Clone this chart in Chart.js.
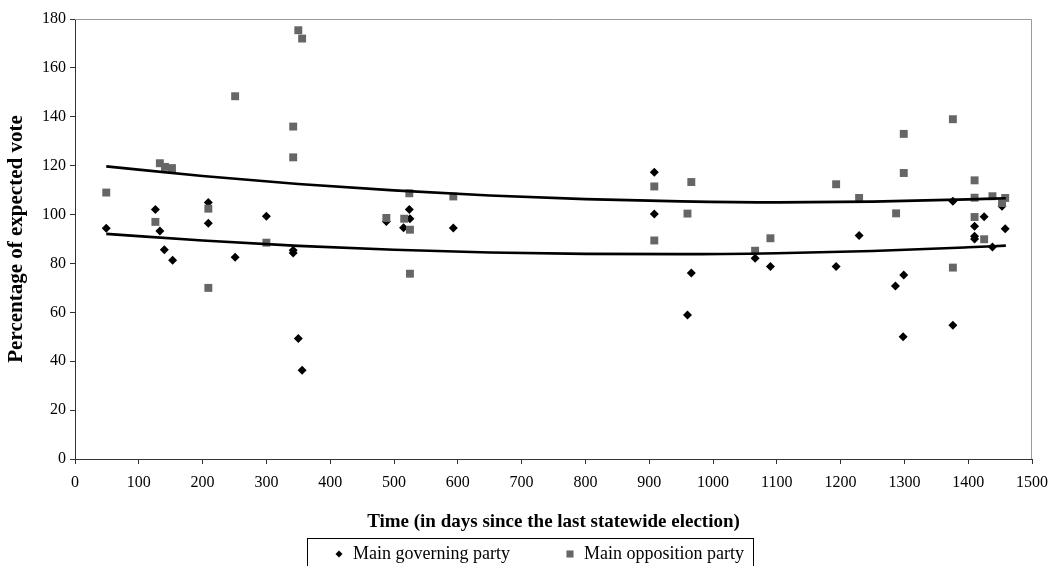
<!DOCTYPE html>
<html>
<head>
<meta charset="utf-8">
<title>Percentage of expected vote</title>
<script src="https://cdn.jsdelivr.net/npm/chart.js@4.4.1/dist/chart.umd.min.js"></script>
<style>
    html, body { margin: 0; padding: 0; background: #fff; overflow: hidden; }
    #wrap { width: 1051px; height: 566px; }
</style>
</head>
<body>
<div id="wrap"><canvas id="voteChart" width="1051" height="566"></canvas></div>
<script>
// Main governing party (days since election, % of expected vote)
const govDays = [49, 126, 133, 140, 153, 209, 209, 251, 300, 342, 342, 350, 356,
    488, 524, 525, 515, 593, 908, 908, 960, 966, 1066, 1090, 1193, 1229,
    1286, 1299, 1298, 1376, 1376, 1410, 1410, 1410, 1425, 1438, 1453, 1458];
const govVotes = [94.4, 102.1, 93.3, 85.6, 81.3, 104.9, 96.4, 82.5, 99.3, 85.4, 84.3, 49.3, 36.3,
    97.2, 102.1, 98.3, 94.6, 94.5, 117.3, 100.2, 58.9, 76.1, 82.1, 78.8, 78.8, 91.4,
    70.8, 75.3, 50.0, 105.4, 54.7, 95.2, 91.1, 90.0, 99.1, 86.7, 103.4, 94.2];

// Main opposition party
const oppDays = [49, 126, 133, 141, 152, 209, 209, 251, 300, 342, 342, 350, 356,
    488, 516, 524, 525, 525, 593, 908, 908, 960, 966, 1066, 1090, 1193, 1229,
    1287, 1299, 1299, 1376, 1376, 1410, 1410, 1410, 1425, 1438, 1453, 1458];
const oppVotes = [109.0, 97.0, 121.0, 119.5, 119.0, 102.4, 70.0, 148.4, 88.5, 136.0, 123.4, 175.4, 172.0,
    98.6, 98.3, 108.7, 93.8, 75.8, 107.4, 111.5, 89.4, 100.4, 113.3, 85.2, 90.3, 112.4, 106.8,
    100.5, 133.0, 117.0, 139.0, 78.3, 114.0, 106.9, 99.0, 89.9, 107.5, 104.7, 106.8];

// Polynomial trend lines
const trendDays = [49, 200, 350, 500, 650, 800, 950, 1100, 1250, 1400, 1459];
const oppTrend = [119.7, 115.8, 112.5, 109.9, 107.8, 106.3, 105.4, 105.0, 105.3, 106.2, 106.7];
const govTrend = [92.1, 89.4, 87.2, 85.6, 84.5, 83.9, 83.8, 84.2, 85.1, 86.6, 87.3];

const xTicks = { min: 0, max: 1500, step: 100 };
const yTicks = { min: 0, max: 180, step: 20 };

const serif = "'Liberation Serif', 'Times New Roman', serif";

function toPoints(xs, ys) {
    return xs.map((x, i) => ({ x: x, y: ys[i] }));
}

// Grey frame on the top and right of the plot area
const framePlugin = {
    id: 'frame',
    afterDraw(chart) {
        const { ctx, chartArea } = chart;
        ctx.save();
        ctx.strokeStyle = '#9a9a9a';
        ctx.lineWidth = 1;
        ctx.beginPath();
        ctx.moveTo(chartArea.left, chartArea.top + 0.5);
        ctx.lineTo(chartArea.right - 0.5, chartArea.top + 0.5);
        ctx.lineTo(chartArea.right - 0.5, chartArea.bottom);
        ctx.stroke();
        ctx.restore();
    }
};

// Boxed legend below the axis title
const boxLegendPlugin = {
    id: 'boxLegend',
    afterDraw(chart) {
        const ctx = chart.ctx;
        const items = [
            { ds: chart.data.datasets[0], x: 339, r: 3.5 },
            { ds: chart.data.datasets[1], x: 570, r: 5 }
        ];
        const cy = 554;
        ctx.save();
        ctx.strokeStyle = '#000';
        ctx.lineWidth = 1;
        ctx.strokeRect(307.5, 538.5, 446, 40);
        ctx.font = '18px ' + serif;
        ctx.textBaseline = 'middle';
        items.forEach(item => {
            ctx.fillStyle = item.ds.backgroundColor;
            ctx.strokeStyle = item.ds.backgroundColor;
            Chart.helpers.drawPoint(ctx, {
                pointStyle: item.ds.pointStyle,
                radius: item.r,
                rotation: 0,
                borderWidth: 0
            }, item.x, cy);
            ctx.fillStyle = '#000';
            ctx.fillText(item.ds.label, item.x + 14, cy);
        });
        ctx.restore();
    }
};

const ctx = document.getElementById('voteChart').getContext('2d');
const voteChart = new Chart(ctx, {
    type: 'scatter',
    data: {
        datasets: [
            {
                label: 'Main governing party',
                data: toPoints(govDays, govVotes),
                pointStyle: 'rectRot',
                pointRadius: 4.5,
                backgroundColor: '#000000',
                borderColor: '#000000',
                borderWidth: 0,
                order: 2
            },
            {
                label: 'Main opposition party',
                data: toPoints(oppDays, oppVotes),
                pointStyle: 'rect',
                pointRadius: 5.6,
                backgroundColor: '#666666',
                borderColor: '#666666',
                borderWidth: 0,
                order: 1
            },
            {
                label: 'Opposition trend',
                data: toPoints(trendDays, oppTrend),
                showLine: true,
                pointRadius: 0,
                borderColor: '#000000',
                borderWidth: 2.6,
                cubicInterpolationMode: 'monotone',
                order: 0
            },
            {
                label: 'Governing trend',
                data: toPoints(trendDays, govTrend),
                showLine: true,
                pointRadius: 0,
                borderColor: '#000000',
                borderWidth: 2.6,
                cubicInterpolationMode: 'monotone',
                order: 0
            }
        ]
    },
    options: {
        responsive: false,
        animation: false,
        layout: {
            padding: { left: 0, right: 19, top: 19, bottom: 0 }
        },
        scales: {
            x: {
                type: 'linear',
                min: xTicks.min,
                max: xTicks.max,
                afterFit: scale => {
                    scale.height = 107;
                    // keep the plot right edge where the reference has it
                    scale.paddingRight = 19;
                },
                grid: {
                    drawOnChartArea: false,
                    drawTicks: true,
                    tickLength: 5,
                    tickColor: '#333'
                },
                border: { color: '#333', width: 1 },
                ticks: {
                    stepSize: xTicks.step,
                    autoSkip: false,
                    maxRotation: 0,
                    padding: 9,
                    color: '#000',
                    font: { family: serif, size: 16 },
                    callback: value => String(value)
                },
                title: {
                    display: true,
                    text: 'Time (in days since the last statewide election)',
                    color: '#000',
                    font: { family: serif, size: 19, weight: 'bold' },
                    padding: { top: 0, bottom: 33 }
                }
            },
            y: {
                min: yTicks.min,
                max: yTicks.max,
                afterFit: scale => { scale.width = 75; },
                grid: {
                    drawOnChartArea: false,
                    drawTicks: true,
                    tickLength: 5,
                    tickColor: '#333'
                },
                border: { color: '#333', width: 1 },
                ticks: {
                    stepSize: yTicks.step,
                    padding: 4,
                    color: '#000',
                    font: { family: serif, size: 16 },
                    callback: value => String(value)
                },
                title: {
                    display: true,
                    text: 'Percentage of expected vote',
                    color: '#000',
                    font: { family: serif, size: 21, weight: 'bold' },
                    padding: { top: 4, bottom: 0 }
                }
            }
        },
        plugins: {
            legend: { display: false },
            tooltip: { enabled: false }
        }
    },
    plugins: [framePlugin, boxLegendPlugin]
});
</script>
</body>
</html>
